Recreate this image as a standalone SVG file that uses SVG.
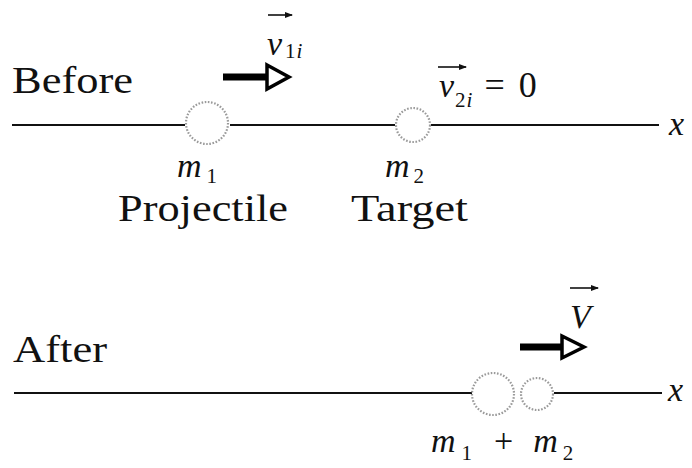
<svg xmlns="http://www.w3.org/2000/svg" width="692" height="468" viewBox="0 0 692 468" font-family="'Liberation Serif', Tinos, 'Times New Roman', serif">
  <style>
    .lbl { font-size: 38px; }
    .var { font-style: italic; font-size: 34px; }
    .sub { font-size: 21px; font-style: normal; }
    .subi { font-size: 21px; font-style: italic; }
    .op { font-size: 36px; font-style: normal; }
    .axis { stroke: #111; stroke-width: 2.2; fill: none; }
    .ball { fill: none; stroke: #9a9a9a; stroke-width: 2.2; stroke-dasharray: 1.6 1.6; }
    .shaft { stroke: #000; stroke-width: 7; }
    .head { fill: #fff; stroke: #000; stroke-width: 3.5; stroke-linejoin: miter; }
    .vec { stroke: #111; stroke-width: 1.6; fill: none; }
  </style>
  <defs>
    <marker id="vh" markerWidth="8" markerHeight="6" refX="7" refY="3" orient="auto" markerUnits="userSpaceOnUse">
      <path d="M0,0 L8,3 L0,6 z" fill="#111"/>
    </marker>
  </defs>
  <rect width="692" height="468" fill="#fff"/>

  <g id="connectors">
    <line class="axis" x1="12" y1="125" x2="185" y2="125"/>
    <line class="axis" x1="230" y1="125" x2="395" y2="125"/>
    <line class="axis" x1="431" y1="125" x2="659" y2="125"/>
    <line class="axis" x1="14" y1="393" x2="472" y2="393"/>
    <line class="axis" x1="554" y1="393" x2="662" y2="393"/>
  </g>

  <g id="before-label" fill="#111">
    <text class="lbl" x="12" y="93" font-size="40" textLength="121" lengthAdjust="spacingAndGlyphs">Before</text>
  </g>

  <g id="arrow-v1i" fill="#111">
    <line class="shaft" x1="223" y1="77" x2="266" y2="77"/>
    <polygon class="head" points="267,65 289,77 267,89"/>
    <line class="vec" x1="268" y1="15" x2="292" y2="15" marker-end="url(#vh)"/>
    <text class="var" x="267" y="55">v<tspan class="sub" dx="3" dy="3">1</tspan><tspan class="subi" dx="1">i</tspan></text>
  </g>

  <g id="ball-m1">
    <circle class="ball" cx="207" cy="123" r="21"/>
  </g>

  <g id="ball-m2">
    <circle class="ball" cx="413" cy="125" r="17"/>
  </g>

  <g id="label-v2i" fill="#111">
    <line class="vec" x1="438" y1="67" x2="466" y2="67" marker-end="url(#vh)"/>
    <text class="var" x="439" y="97">v<tspan class="sub" dx="1" dy="10">2</tspan><tspan class="subi" dx="1">i</tspan><tspan class="op" dx="12" dy="-10">=</tspan><tspan class="op" dx="14">0</tspan></text>
  </g>

  <g id="x-label-1" fill="#111">
    <text class="var" x="669" y="135">x</text>
  </g>

  <g id="label-m1" fill="#111">
    <text class="var" x="177" y="177">m<tspan class="sub" dx="5" dy="6">1</tspan></text>
    <text class="lbl" x="118" y="221" textLength="170" lengthAdjust="spacingAndGlyphs">Projectile</text>
  </g>

  <g id="label-m2" fill="#111">
    <text class="var" x="385" y="177">m<tspan class="sub" dx="4" dy="6">2</tspan></text>
    <text class="lbl" x="351" y="221" textLength="117" lengthAdjust="spacingAndGlyphs">Target</text>
  </g>

  <g id="after-label" fill="#111">
    <text class="lbl" x="13" y="362" font-size="40" textLength="94" lengthAdjust="spacingAndGlyphs">After</text>
  </g>

  <g id="arrow-V" fill="#111">
    <line class="shaft" x1="520" y1="347" x2="561" y2="347"/>
    <polygon class="head" points="562,336 584,347 562,358"/>
    <line class="vec" x1="570" y1="288" x2="598" y2="288" marker-end="url(#vh)"/>
    <text class="var" x="570" y="328">V</text>
  </g>

  <g id="ball-combined">
    <circle class="ball" cx="493" cy="394" r="21"/>
    <circle class="ball" cx="537" cy="394" r="16"/>
  </g>

  <g id="x-label-2" fill="#111">
    <text class="var" x="668" y="401">x</text>
  </g>

  <g id="label-m1m2" fill="#111">
    <text class="var" x="431" y="452">m<tspan class="sub" dx="6" dy="8">1</tspan><tspan class="op" style="font-size:34px" dx="22" dy="-8">+</tspan><tspan dx="20">m</tspan><tspan class="sub" dx="5" dy="8">2</tspan></text>
  </g>
</svg>
